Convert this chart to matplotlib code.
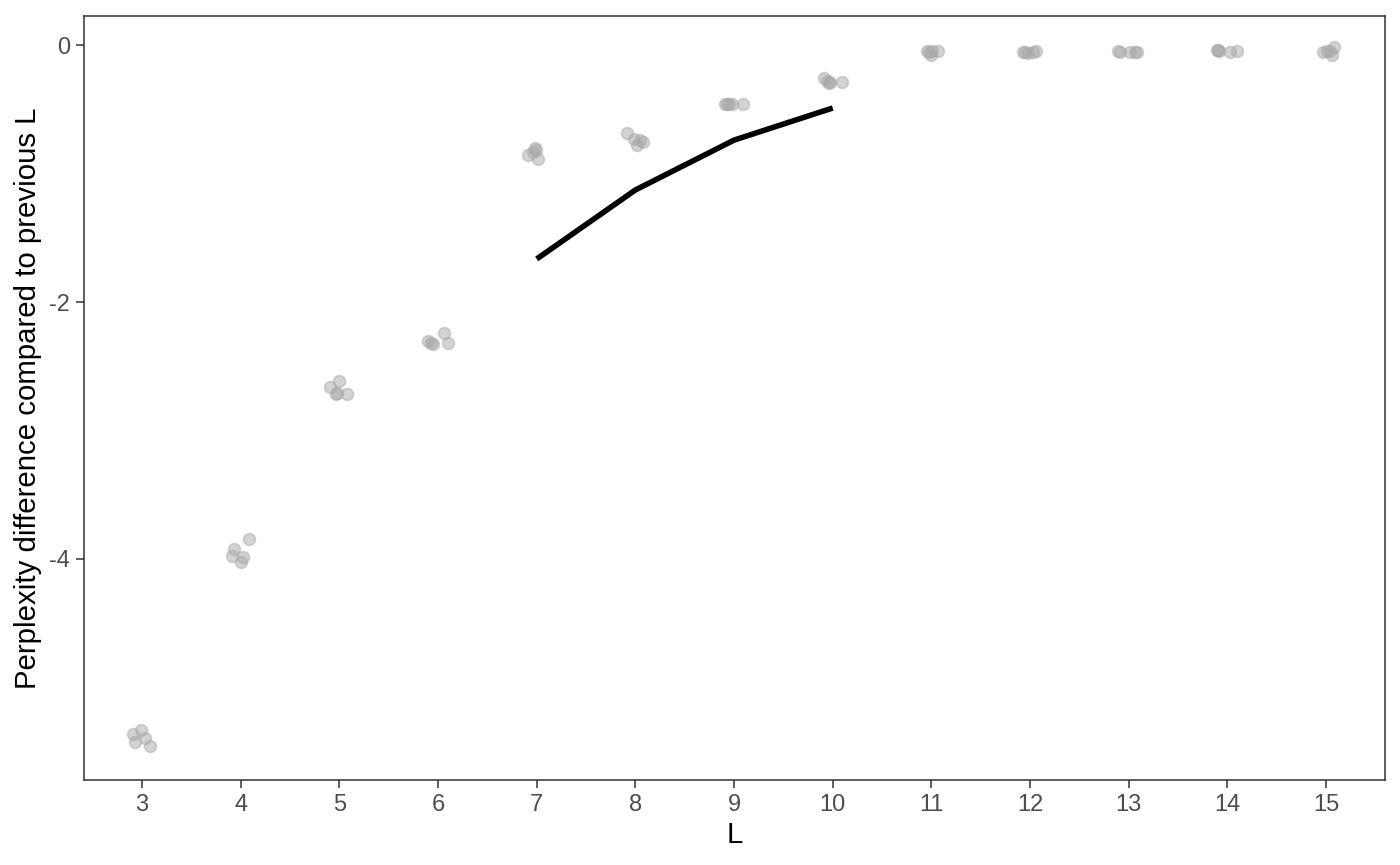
import matplotlib
matplotlib.use('Agg')
import matplotlib.pyplot as plt

plt.rcParams['font.family'] = ['Liberation Sans', 'DejaVu Sans']
plt.rcParams['axes.unicode_minus'] = False

# jittered points (x already jittered around each L)
pts_x = [2.906, 2.990, 2.926, 3.033, 3.081,
         4.080, 3.935, 3.910, 4.020, 4.003,
         4.900, 4.994, 4.966, 5.075, 4.980,
         5.902, 5.947, 6.064, 6.101, 5.930,
         6.909, 6.983, 7.017, 6.960, 6.993,
         7.912, 7.987, 8.020, 8.081, 8.048,
         8.909, 8.932, 8.977, 9.094, 8.950,
         9.915, 9.963, 10.090, 9.940, 9.973,
         10.953, 11.004, 11.071, 10.994, 10.980,
         11.932, 11.983, 12.061, 12.034, 11.949,
         12.912, 13.013, 13.087, 13.064, 12.895,
         13.909, 14.027, 14.095, 13.892, 13.919,
         14.967, 15.075, 15.058, 15.041, 15.007]
pts_y = [-5.362, -5.331, -5.426, -5.395, -5.455,
         -3.844, -3.920, -3.977, -3.987, -4.026,
         -2.661, -2.612, -2.718, -2.716, -2.706,
         -2.304, -2.329, -2.239, -2.319, -2.320,
         -0.856, -0.804, -0.888, -0.830, -0.817,
         -0.682, -0.732, -0.778, -0.752, -0.739,
         -0.461, -0.459, -0.457, -0.457, -0.460,
         -0.259, -0.298, -0.286, -0.278, -0.288,
         -0.044, -0.044, -0.044, -0.078, -0.052,
         -0.052, -0.060, -0.044, -0.052, -0.057,
         -0.052, -0.052, -0.052, -0.055, -0.050,
         -0.039, -0.052, -0.044, -0.039, -0.044,
         -0.052, -0.018, -0.078, -0.044, -0.044]

line_x = [7, 8, 9, 10]
line_y = [-1.665, -1.128, -0.740, -0.490]

xticks = list(range(3, 16))
yticks = [0, -2, -4]

fig = plt.figure(figsize=(7, 4.325), dpi=200)
ax = fig.add_axes([0.06, 0.0983, 0.9293, 0.8832])

ax.scatter(pts_x, pts_y, s=18, color='#a9a9a9', alpha=0.5,
           edgecolors='#a9a9a9', linewidths=0.6, zorder=2)
ax.plot(line_x, line_y, color='black', lw=2.0, solid_capstyle='butt', zorder=3)

ax.set_xlim(2.412, 15.597)
ax.set_ylim(-5.72, 0.226)
ax.set_xticks(xticks)
ax.set_xticklabels([str(t) for t in xticks])
ax.set_yticks(yticks)
ax.set_yticklabels([str(t) for t in yticks])

for s in ax.spines.values():
    s.set_color('#333333')
    s.set_linewidth(0.55)
ax.tick_params(colors='#333333', width=0.55, length=2.75, labelsize=8.5,
               labelcolor='#4d4d4d', pad=2.2)

ax.set_xlabel('L', fontsize=10.6, labelpad=2)
ax.set_ylabel('Perplexity difference compared to previous L', fontsize=10.6, labelpad=2.5)

fig.savefig('out.png', dpi=200)
